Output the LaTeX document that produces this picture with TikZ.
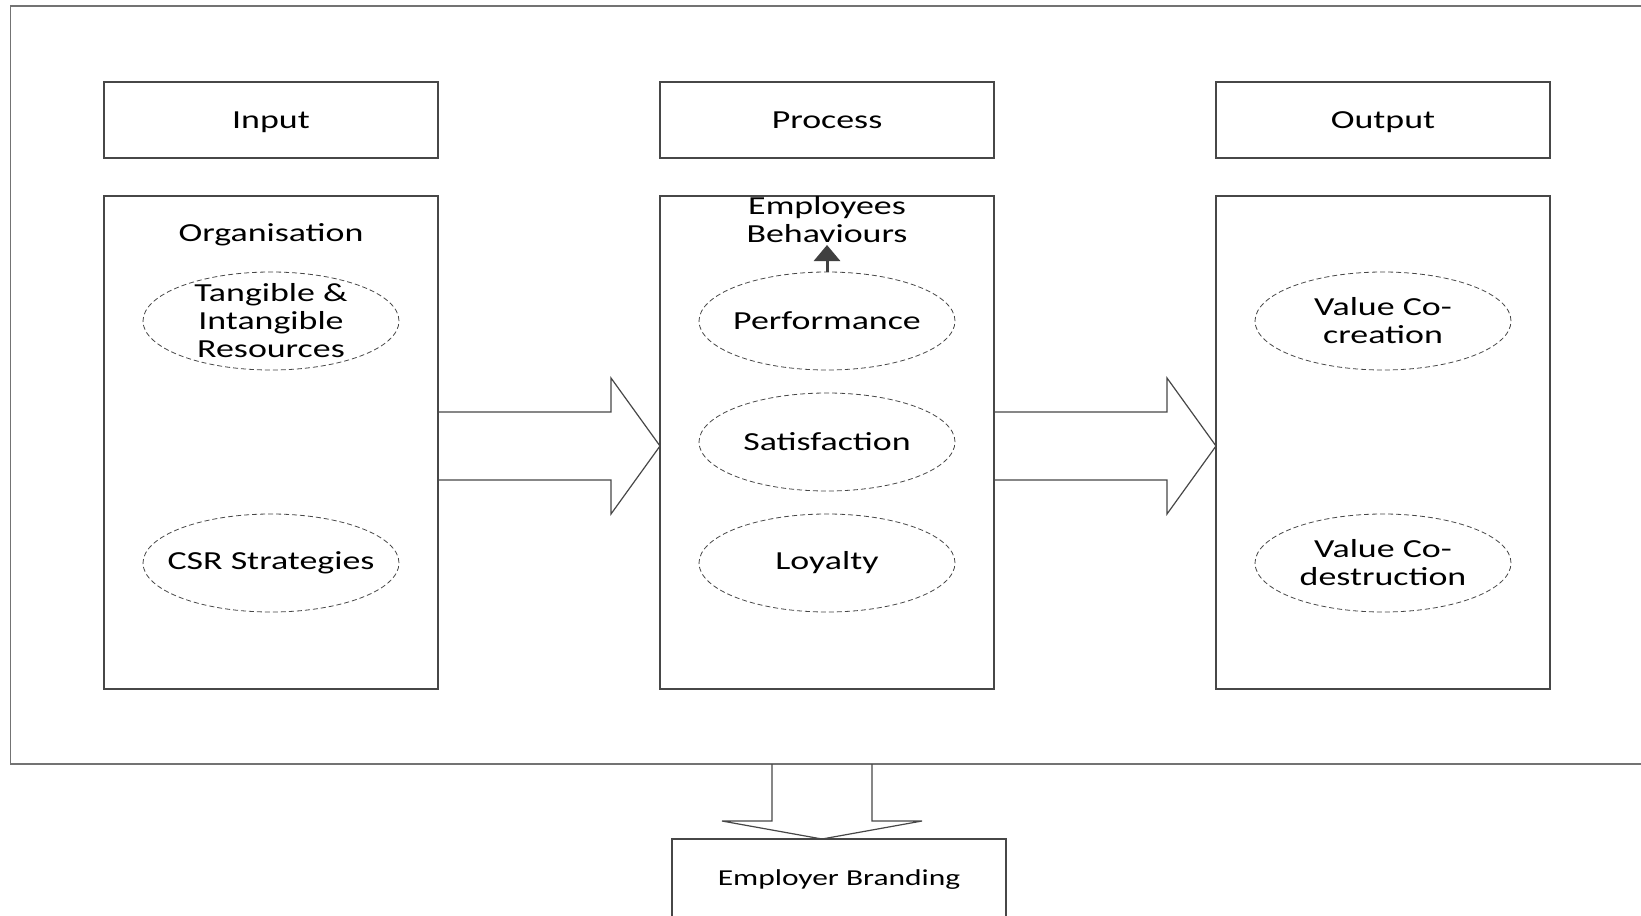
\documentclass[tikz,border=0pt]{standalone}
\usepackage{fontspec}
\setmainfont{Carlito}[FakeStretch=1.38]
\usetikzlibrary{
  positioning,
  calc,
  arrows.meta,
  shapes.geometric
}
\colorlet{edge}{black!72}
\tikzset{
  % Shared values that are assigned to different keys in the styles below.
  globals/box width/.initial=167pt,
  globals/line width/.initial=0.6pt,
%
  % For the outer frame (open to the right).
  frame box/.style={
    draw=black!55,
    line width=\pgfkeysvalueof{/tikz/globals/line width},
    minimum width=824.75pt,
    minimum height=379pt,
    inner sep=0pt,
    outer sep=0pt},
%
  % For the column heads.  Fixed text height and depth keep the
  % baselines level.
  head/.style={
    draw=edge,
    line width=\pgfkeysvalueof{/tikz/globals/line width},
    minimum width=\pgfkeysvalueof{/tikz/globals/box width},
    minimum height=38pt,
    text height=10pt,
    text depth=2pt,
    inner sep=0pt,
    outer sep=0pt,
    font=\fontsize{13}{14}\selectfont},
%
  % For the tall column bodies.
  column/.style={
    head,
    minimum height=246.5pt},
%
  % For the box at the bottom.
  brand/.style={
    head,
    minimum height=42pt,
    text height=8pt,
    text depth=4pt,
    font=\fontsize{11.4}{13}\selectfont},
%
  % For the dashed factors inside the columns.  The negative inner sep
  % keeps every ellipse at the same size, whatever its text.
  factor/.style={
    ellipse,
    draw=edge,
    line width=0.4pt,
    dash pattern=on 2.5pt off 1.5pt,
    minimum width=128pt,
    minimum height=49pt,
    inner xsep=-20pt,
    inner ysep=-8pt,
    outer sep=0pt,
    align=center,
    font=\fontsize{13}{14}\selectfont},
%
  % For the titles inside the columns.
  caption/.style={
    align=center,
    inner sep=0pt,
    font=\fontsize{13}{14}\selectfont},
%
  % For the hollow block arrows.
  block arrow/.style={
    draw=edge,
    line width=\pgfkeysvalueof{/tikz/globals/line width},
    line join=miter},
%
  % For the small solid arrow.
  up arrow/.style={
    draw=black!75,
    line width=1.5pt,
    -{Triangle[width=13pt,length=8pt]}}
}

\begin{document}
\begin{tikzpicture}[x=0.5pt,y=-0.5pt]
  \useasboundingbox (0,0) rectangle (1641,915);
  \clip (0,0) rectangle (1641,915);

  \node[frame box] (frame) at (835.25,385) {};

  % Column heads and bodies.
  \node[head] (input)   at (271,120)  {Input};
  \node[head] (process) at (827,120)  {Process};
  \node[head] (output)  at (1383,120) {Output};

  \node[column, below=19pt of input]   (orgbox) {};
  \node[column, below=19pt of process] (behbox) {};
  \node[column, below=19pt of output]  (outbox) {};

  % Input column.
  \node[caption] (org) at (271,235) {Organisation};
  \node[factor] (resources) at (271,321) {Tangible \&\\Intangible\\Resources};
  \node[factor] (csr)       at (271,563) {CSR Strategies};

  % Process column.
  \node[caption] (behav) at (827,220) {Employees\\Behaviours};
  \node[factor] (perf)    at (827,321) {Performance};
  \node[factor] (satisf)  at (827,442) {Satisfaction};
  \node[factor] (loyalty) at (827,563) {Loyalty};
  \coordinate[above=13.5pt of perf.north] (tip);
  \draw[up arrow] (perf.north) -- (tip);

  % Output column.
  \node[factor] (creation)    at (1383,321) {Value Co-\\creation};
  \node[factor] (destruction) at (1383,563) {Value Co-\\destruction};

  % Block arrows between the columns.
  \def\rightBlock#1#2{%
    \draw[block arrow] ($(#1.east)+(0,-30.5)$) -- ++(173,0) -- ++(0,-34)
      -- ($(#2.west)+(0,3.5)$) -- ++(-49,68) -- ++(0,-34)
      -- ($(#1.east)+(0,37.5)$);}
  \rightBlock{orgbox}{behbox}
  \rightBlock{behbox}{outbox}

  % Result below the frame.
  \node[brand, anchor=north] (branding) at (839,839) {Employer Branding};
  \coordinate (drop) at ($(behbox.south |- frame.south)+(-5,0)$);
  \draw[block arrow] ($(drop)+(-50,0)$) -- ++(0,57) -- ++(-50,0)
    -- (drop |- branding.north) -- ++(100,-18) -- ++(-50,0)
    -- ($(drop)+(50,0)$);
\end{tikzpicture}
\end{document}
